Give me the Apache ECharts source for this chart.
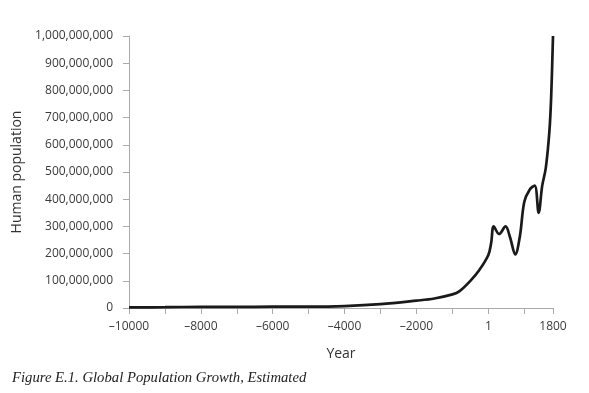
<!DOCTYPE html>
<html>
<head>
<meta charset="utf-8">
<script src="https://cdn.jsdelivr.net/npm/echarts@6/dist/echarts.min.js"></script>
<style>
html,body{margin:0;padding:0;background:#fff;}
#chart{width:589px;height:393px;}
</style>
</head>
<body>
<div id="chart"></div>
<script>
const years = [-10000, -9000, -8000, -7000, -6000, -5000, -4000, -3000, -2000, -1500, -1000, -800, -500, -250, 1, 80, 150, 300, 480, 600, 750, 880, 1000, 1150, 1290, 1400, 1500, 1600, 1700, 1750, 1800];
const population = [2e6, 3e6, 4e6, 4e6, 5e6, 5e6, 7e6, 14e6, 27e6, 35e6, 50e6, 62e6, 100e6, 140e6, 195e6, 240e6, 300e6, 272e6, 300e6, 262e6, 197e6, 265e6, 390e6, 435e6, 450e6, 350e6, 450e6, 515e6, 650e6, 780e6, 1000e6];
const xLabelYears = [-10000, -8000, -6000, -4000, -2000, 0, 1800];
const caption = 'Figure E.1. Global Population Growth, Estimated';

const chart = echarts.init(document.getElementById('chart'));
const font = '"Open Sans", sans-serif';
chart.setOption({
  animation: false,
  backgroundColor: '#fff',
  title: {
    text: caption,
    left: 7,
    top: 366,
    textStyle: {fontFamily: '"Liberation Serif", serif', fontStyle: 'italic', fontWeight: 'normal', fontSize: 14.7, color: '#222'}
  },
  grid: {left: 129, right: 36, top: 36, bottom: 85, containLabel: false},
  xAxis: {
    type: 'value',
    min: -10000,
    max: 1800,
    interval: 1000,
    name: 'Year',
    nameLocation: 'middle',
    nameGap: 39,
    nameTextStyle: {fontFamily: font, fontSize: 14, color: '#333'},
    splitLine: {show: false},
    axisLine: {show: true, onZero: false, lineStyle: {color: '#aaa', width: 1}},
    axisTick: {show: true, length: 6, lineStyle: {color: '#aaa'}},
    axisLabel: {
      showMinLabel: true, showMaxLabel: true,
      fontFamily: font, fontSize: 12, color: '#3a3a3a', margin: 13,
      formatter: function (v) {
        if (xLabelYears.indexOf(v) < 0) return '';
        if (v === 0) return '1';
        if (v < 0) return '\u2013' + Math.abs(v);
        return String(v);
      }
    }
  },
  yAxis: {
    type: 'value',
    min: 0,
    max: 1000000000,
    interval: 100000000,
    name: 'Human population',
    nameLocation: 'middle',
    nameGap: 105,
    nameTextStyle: {fontFamily: font, fontSize: 14, color: '#333'},
    splitLine: {show: false},
    axisLine: {show: true, onZero: false, lineStyle: {color: '#aaa', width: 1}},
    axisTick: {show: true, length: 6, lineStyle: {color: '#aaa'}},
    axisLabel: {
      fontFamily: font, fontSize: 12, color: '#3a3a3a', margin: 16,
      formatter: function (v) { return v.toLocaleString('en-US'); }
    }
  },
  series: [{
    type: 'line',
    data: years.map((y, i) => [y, population[i]]),
    smooth: 0.35,
    showSymbol: false,
    lineStyle: {color: '#1a1a1a', width: 2.7}
  }]
});
</script>
</body>
</html>
